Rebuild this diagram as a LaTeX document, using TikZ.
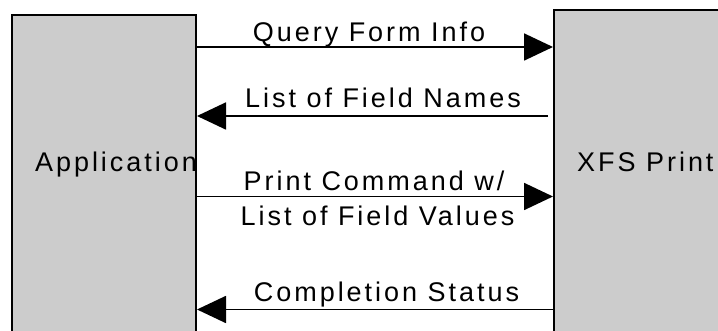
\documentclass[tikz,border=0pt]{standalone}
\usepackage{fontspec}
\setmainfont{Liberation Sans}[LetterSpace=11]
\usetikzlibrary{arrows.meta}
\definecolor{boxgray}{HTML}{CCCCCC}
\begin{document}
\begin{tikzpicture}[x=1pt,y=1pt,
  box/.style={draw=black, line width=2pt, fill=boxgray, anchor=north west, inner sep=0pt},
  lbl/.style={font=\fontsize{27}{31}\selectfont, inner sep=0pt, anchor=base},
  msg/.style={line width=1.8pt, -{Triangle[length=29pt,width=27pt]}}]
\useasboundingbox (0,0) rectangle (718,331);
\clip (0,0) rectangle (718,331);
\node[box, minimum width=184pt, minimum height=330pt] (app) at (11,317) {};
\node[box, minimum width=180pt, minimum height=330pt] (xfs) at (553,321.5) {};
\coordinate (l1) at (0,284);
\coordinate (l2) at (0,215);
\coordinate (l3) at (0,134.5);
\coordinate (l4) at (0,21.5);
\draw[msg] (app.east |- l1) -- (xfs.west |- l1);
\draw[msg] ([xshift=-5pt]xfs.west |- l2) -- (app.east |- l2);
\draw[msg] (app.east |- l3) -- (xfs.west |- l3);
\draw[msg] (xfs.west |- l4) -- (app.east |- l4);
\node[lbl] (t1) at (369,289) {Query Form Info};
\node[lbl] (t2) at (383,223) {List of Field Names};
\node[lbl] (t3) at (374,140) {Print Command w/};
\node[lbl] (t4) at (377.5,105) {List of Field Values};
\node[lbl] (t5) at (386.5,29) {Completion Status};
\node[lbl] (apptext) at (116,159) {Application};
\node[lbl, anchor=base west] (xfstext) at (577,159) {XFS Print};
\end{tikzpicture}
\end{document}
